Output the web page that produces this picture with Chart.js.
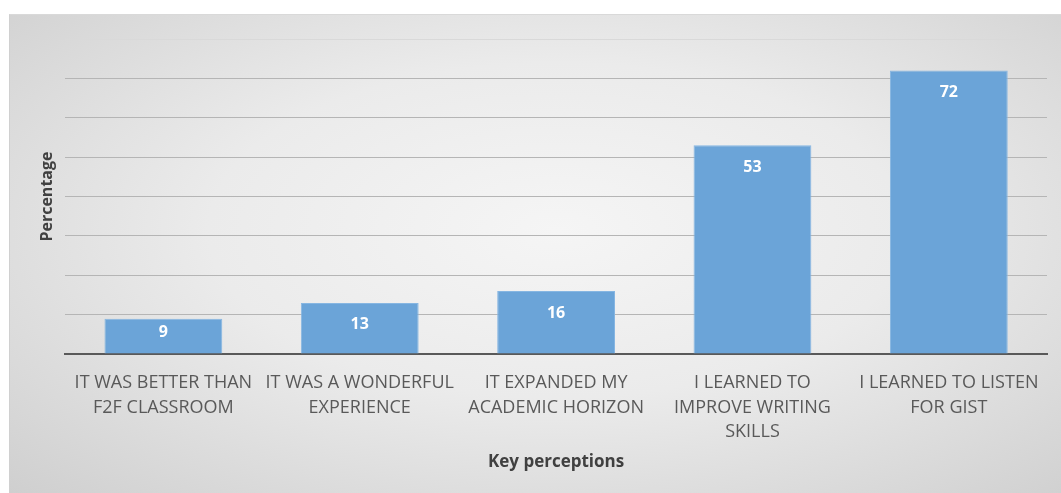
<!DOCTYPE html>
<html>
<head>
<meta charset="utf-8">
<script src="https://cdn.jsdelivr.net/npm/chart.js@4"></script>
<style>
  html, body { margin: 0; padding: 0; background: #fff; }
  #frame {
    position: absolute; left: 9px; top: 14px; width: 1052px; height: 479px;
    border-top: 1px solid #d9d9d9; border-left: 1px solid #d0d0d0; box-sizing: border-box;
    background: radial-gradient(ellipse at 52% 45%, #f5f5f5 0%, #ebebeb 45%, #cfcfcf 100%);
  }
  #chart { position: absolute; left: 0; top: 0; }
</style>
</head>
<body>
<div id="frame"><canvas id="chart" width="1051" height="478"></canvas></div>
<script>
// Key perceptions survey, values in percent
const categories = [
  ['IT WAS BETTER THAN', 'F2F CLASSROOM'],
  ['IT WAS A WONDERFUL', 'EXPERIENCE'],
  ['IT EXPANDED MY', 'ACADEMIC HORIZON'],
  ['I LEARNED TO', 'IMPROVE WRITING', 'SKILLS'],
  ['I LEARNED TO LISTEN', 'FOR GIST'],
];
const percentages = [9, 13, 16, 53, 72];
const yMax = 80;
const yStep = 10;

const FONT = "'Open Sans', Lato, sans-serif";

// white value labels just inside the top of each bar
const insideEndLabels = {
  id: 'insideEndLabels',
  afterDatasetsDraw(chart) {
    const { ctx } = chart;
    const meta = chart.getDatasetMeta(0);
    ctx.save();
    ctx.fillStyle = '#ffffff';
    ctx.font = `bold 16px ${FONT}`;
    ctx.textAlign = 'center';
    ctx.textBaseline = 'middle';
    meta.data.forEach((bar, i) => {
      const h = bar.base - bar.y;
      const off = Math.min(22, h / 2 - 4);
      ctx.fillText(String(percentages[i]), bar.x, bar.y + off);
    });
    ctx.restore();
  },
};

new Chart(document.getElementById('chart'), {
  type: 'bar',
  data: {
    labels: categories,
    datasets: [{
      data: percentages,
      backgroundColor: '#6ba4d8',
      borderColor: '#86b6e2',
      borderWidth: 1,
      borderSkipped: 'bottom',
      barPercentage: 0.6,
      categoryPercentage: 1,
    }],
  },
  options: {
    responsive: false,
    animation: false,
    layout: { padding: { left: 28, right: 14, top: 24, bottom: 17 } },
    plugins: { legend: { display: false }, tooltip: { enabled: false } },
    scales: {
      x: {
        grid: { display: false },
        border: { color: '#595959', width: 2 },
        ticks: { color: '#595959', font: { family: FONT, size: 18, lineHeight: '24.5px' }, maxRotation: 0, autoSkip: false, padding: 9 },
        title: { display: true, text: 'Key perceptions', color: '#404040', font: { family: FONT, size: 17, weight: 'bold' }, padding: { top: -2 } },
      },
      y: {
        min: 0,
        max: yMax,
        ticks: { display: false, stepSize: yStep },
        grid: {
          drawTicks: false,
          color: c => c.tick.value === 0 ? 'rgba(0,0,0,0)' : (c.tick.value === yMax ? '#d9d9d9' : '#b5b5b5'),
          lineWidth: 1,
        },
        border: { display: false },
        title: { display: true, text: 'Percentage', color: '#404040', font: { family: FONT, size: 16, weight: 'bold' }, padding: { top: 0, bottom: 8 } },
      },
    },
  },
  plugins: [insideEndLabels],
});
</script>
</body>
</html>
